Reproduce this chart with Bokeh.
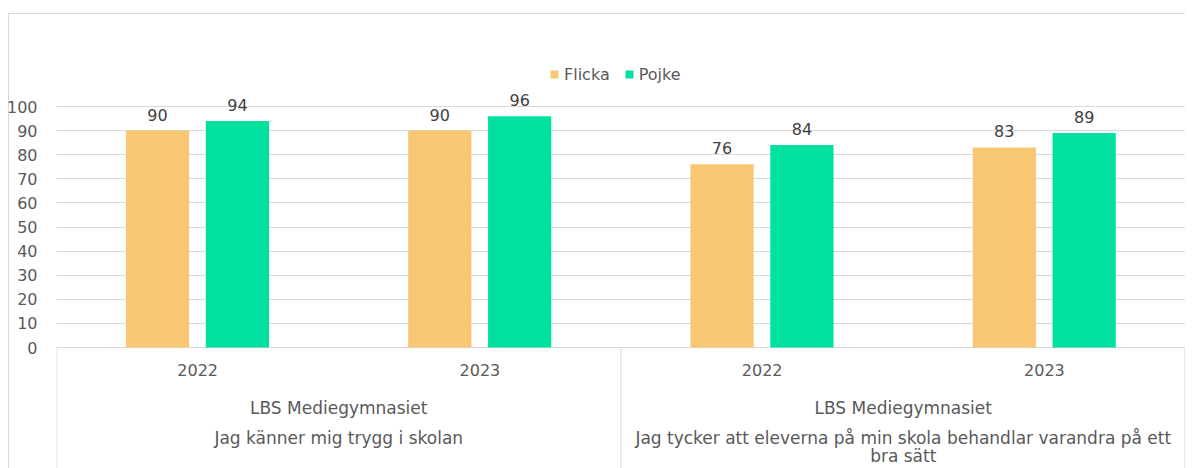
from bokeh.plotting import figure
from bokeh.models import (FactorRange, Range1d, ColumnDataSource, FixedTicker, Legend, LegendItem)
from bokeh.transform import dodge
from bokeh.core.properties import value
from bokeh.embed import file_html
from bokeh.resources import INLINE

# ---- data ----
questions = ["Jag känner mig trygg i skolan",
             "Jag tycker att eleverna på min skola behandlar varandra på ett bra sätt"]
question_labels = ["Jag känner mig trygg i skolan",
                   "Jag tycker att eleverna på min skola behandlar varandra på ett\nbra sätt"]
school = "LBS Mediegymnasiet"
years = ["2022", "2023"]
series = ["Flicka", "Pojke"]
flicka = [90, 90, 76, 83]
pojke = [94, 96, 84, 89]
y_ticks = [0, 10, 20, 30, 40, 50, 60, 70, 80, 90, 100]

FONT = "DejaVu Sans"
GRID = "#d9d9d9"
TXT = "#595959"
C_F = "#F8C773"
C_P = "#00E09F"

factors = [(q, y) for q in questions for y in years]
x_range = FactorRange(*factors, factor_padding=0, group_padding=0, range_padding=0)

# canvas geometry: frame x 56..1185, y 13..468; value 0 at y=347, 100 at y=106
H = 468
px_per_unit = 2.41
y0 = -(H - 347) / px_per_unit
y1 = (347 - 13) / px_per_unit
y_range = Range1d(y0, y1)

border_css = ("linear-gradient(#d9d9d9,#d9d9d9) 8px 13px / 100% 1px no-repeat, "
              "linear-gradient(#d9d9d9,#d9d9d9) 8px 13px / 1px 100% no-repeat, #ffffff")

p = figure(width=1185, height=H, x_range=x_range, y_range=y_range,
           output_backend="svg", toolbar_location=None, x_axis_location=None,
           min_border_left=56, min_border_right=0, min_border_top=13, min_border_bottom=0,
           styles={"background": border_css})
p.border_fill_color = None
p.background_fill_color = None
p.outline_line_color = None
p.xgrid.grid_line_color = None
p.ygrid.grid_line_color = GRID
p.ygrid.ticker = FixedTicker(ticks=y_ticks)
p.yaxis.ticker = FixedTicker(ticks=y_ticks)
p.yaxis.axis_line_color = None
p.yaxis.major_tick_line_color = None
p.yaxis.minor_tick_line_color = None
p.yaxis.major_label_text_font = FONT
p.yaxis.major_label_text_font_size = "16px"
p.yaxis.major_label_text_color = TXT
p.yaxis.major_label_standoff = 13

src = ColumnDataSource(dict(x=factors, flicka=flicka, pojke=pojke,
                            fl=[str(round(v)) for v in flicka],
                            pl=[str(round(v)) for v in pojke]))
rf = p.vbar(x=dodge("x", -0.142, range=x_range), top="flicka", width=0.224, source=src,
            fill_color=C_F, line_color=None)
rp = p.vbar(x=dodge("x", 0.141, range=x_range), top="pojke", width=0.224, source=src,
            fill_color=C_P, line_color=None)

for xo, col, lab in [(-0.142, "flicka", "fl"), (0.141, "pojke", "pl")]:
    p.text(x=dodge("x", xo, range=x_range), y=col, text=lab, source=src,
           text_align="center", text_baseline="bottom", y_offset=-10,
           text_font=value(FONT), text_font_size="16px", text_color="#404040")

# category labels below axis
p.text(x=factors, y=[-9.5] * 4, text=[f[1] for f in factors], text_align="center",
       text_baseline="middle", text_font=value(FONT), text_font_size="16px", text_color=TXT)
p.text(x=questions, y=[-24.9] * 2, text=[school] * 2, text_align="center",
       text_baseline="middle", text_font=value(FONT), text_font_size="17px", text_color=TXT)
p.text(x=questions, y=[-33.6] * 2, text=question_labels, text_align="center",
       text_baseline="top", text_font=value(FONT), text_font_size="17px", text_color=TXT,
       text_line_height=0.88)
# category box lines
p.segment(x0=[0.001, 2, 3.998], y0=[0, 0, 0], x1=[0.001, 2, 3.998], y1=[y0, y0, y0],
          line_color=GRID, line_width=1)

legend = Legend(items=[LegendItem(label=series[0], renderers=[rf]),
                       LegendItem(label=series[1], renderers=[rp])],
                orientation="horizontal", location=(493, H - 84),
                glyph_width=10, glyph_height=10, label_standoff=5, spacing=14,
                padding=0, margin=0, label_height=20,
                label_text_font=FONT, label_text_font_size="16px", label_text_color=TXT,
                border_line_color=None, background_fill_alpha=0)
p.add_layout(legend, "center")

open("out.html", "w").write(file_html(p, INLINE))
